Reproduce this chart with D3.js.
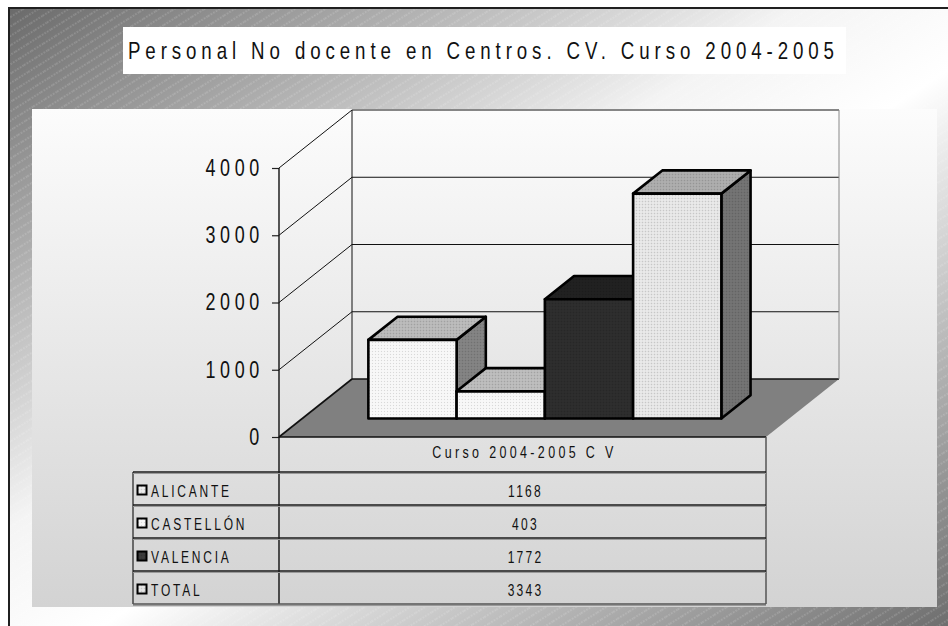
<!DOCTYPE html>
<html><head><meta charset="utf-8">
<script src="https://cdn.jsdelivr.net/npm/d3@7"></script>
<style>
html,body{margin:0;padding:0;background:#fff;}
svg{display:block;font-family:"Liberation Sans",Arial,sans-serif;}
</style></head><body>
<svg id="c" width="948" height="626"></svg>
<script>
const title = "Personal No docente en Centros. CV. Curso 2004-2005";
const categories = ["Curso 2004-2005 CV"];
const seriesNames = ["ALICANTE", "CASTELLÓN", "VALENCIA", "TOTAL"];
const seriesValues = [1168, 403, 1772, 3343];
const yTickValues = [0, 1000, 2000, 3000, 4000];
const yTickLabels = ["0", "1000", "2000", "3000", "4000"];

const seriesStyle = [
  {front: "#f6f6f6", top: "#b6b6b6", side: "#808080", key: "#e6e6e6"},
  {front: "#f6f6f6", top: "#b8b8b8", side: "#7c7c7c", key: "#f4f4f4"},
  {front: "#2c2c2c", top: "#202020", side: "#1c1c1c", key: "#3a3a3a"},
  {front: "#e2e2e2", top: "#a9a9a9", side: "#707070", key: "#dedede"}
];

const W = 948, H = 626;
const NARROW = 0.78;
const svg = d3.select("#c");
const defs = svg.append("defs");

const fg = defs.append("linearGradient").attr("id", "frameGrad")
  .attr("x1", 0).attr("y1", 0).attr("x2", 1).attr("y2", 1);
[[0, "#6a6a6a"], [0.42, "#f4f4f4"], [0.55, "#ffffff"], [1, "#6e6e6e"]]
  .forEach(([o, c]) => fg.append("stop").attr("offset", o).attr("stop-color", c));

const hatch = defs.append("pattern").attr("id", "hatch").attr("patternUnits", "userSpaceOnUse")
  .attr("width", 14).attr("height", 8).attr("patternTransform", "rotate(-32)");
hatch.append("line").attr("x1", 0).attr("x2", 14).attr("y1", 4).attr("y2", 4)
  .attr("stroke", "#ffffff").attr("stroke-opacity", 0.32).attr("stroke-width", 1)
  .attr("stroke-dasharray", "1.5,1.5");

const ig = defs.append("linearGradient").attr("id", "innerGrad")
  .attr("x1", 0).attr("y1", 0).attr("x2", 0).attr("y2", 1);
[[0, "#fcfcfc"], [1, "#d3d3d3"]]
  .forEach(([o, c]) => ig.append("stop").attr("offset", o).attr("stop-color", c));

function dotPattern(id, base) {
  const p = defs.append("pattern").attr("id", id).attr("patternUnits", "userSpaceOnUse")
    .attr("width", 3).attr("height", 3);
  p.append("rect").attr("width", 3).attr("height", 3).attr("fill", base);
  p.append("rect").attr("x", 0).attr("y", 0).attr("width", 1).attr("height", 1).attr("fill", d3.color(base).darker(0.35));
  p.append("rect").attr("x", 1.5).attr("y", 1.5).attr("width", 1).attr("height", 1).attr("fill", d3.color(base).brighter(0.35));
  return `url(#${id})`;
}

function narrowText(parent, x, yy, txt, size, anchor, spacing, sx) {
  return parent.append("text")
    .attr("transform", `translate(${x},${yy}) scale(${sx},1)`)
    .attr("text-anchor", anchor).attr("font-size", size).attr("fill", "#111")
    .style("letter-spacing", spacing + "px").text(txt);
}

// frame
svg.append("rect").attr("x", 0).attr("y", 0).attr("width", W).attr("height", H).attr("fill", "#ffffff");
svg.append("rect").attr("x", 9).attr("y", 8).attr("width", W - 9).attr("height", H - 8).attr("fill", "url(#frameGrad)");
svg.append("rect").attr("x", 9).attr("y", 8).attr("width", W - 9).attr("height", H - 8).attr("fill", "url(#hatch)");
svg.append("path").attr("d", `M9,${H} L9,8 L${W},8`).attr("fill", "none").attr("stroke", "#202020").attr("stroke-width", 2);

// title box
svg.append("rect").attr("x", 123).attr("y", 27).attr("width", 723).attr("height", 47).attr("fill", "#ffffff");
svg.append("text").attr("transform", `translate(128,59) scale(${NARROW},1)`)
  .attr("font-size", 24).attr("fill", "#111")
  .attr("textLength", 706 / NARROW).attr("lengthAdjust", "spacing").text(title);

// inner chart area
svg.append("rect").attr("x", 32).attr("y", 109).attr("width", 905).attr("height", 498).attr("fill", "url(#innerGrad)");

// 3D geometry
const X0 = 279, Y0 = 437, XR = 766;
const DX = 73, DY = -58;
const zF = 0.32, zB = 0.72;
const y = d3.scaleLinear().domain([0, 4000]).range([Y0, 168]);
const xCat = d3.scaleBand().domain(categories).range([X0, XR]);
const xSer = d3.scaleBand().domain(seriesNames)
  .range([xCat(categories[0]) + 66, xCat(categories[0]) + xCat.bandwidth() - 68]);

const g = svg.append("g");
g.append("path").attr("d", `M${X0},${Y0} L${XR},${Y0} L${XR + DX},${Y0 + DY} L${X0 + DX},${Y0 + DY} Z`)
  .attr("fill", "#808080").attr("stroke", "none");
yTickValues.forEach(t => {
  const yy = y(t);
  g.append("line").attr("x1", X0).attr("y1", yy).attr("x2", X0 + DX).attr("y2", yy + DY)
    .attr("stroke", "#111").attr("stroke-width", t === 0 ? 1.6 : 1);
  g.append("line").attr("x1", X0 + DX).attr("y1", yy + DY).attr("x2", XR + DX).attr("y2", yy + DY)
    .attr("stroke", "#111").attr("stroke-width", t === 0 ? 1.6 : 1);
});
g.append("line").attr("x1", X0 + DX).attr("x2", X0 + DX).attr("y1", y(0) + DY).attr("y2", y(4000) + DY).attr("stroke", "#111");
g.append("line").attr("x1", XR + DX).attr("x2", XR + DX).attr("y1", y(0) + DY).attr("y2", y(4000) + DY).attr("stroke", "#888");

const bw = xSer.bandwidth();
seriesNames.forEach((s, i) => {
  const v = seriesValues[i];
  const st = seriesStyle[i];
  const x = xSer(s);
  const fx = x + zF * DX, bx = x + zB * DX;
  const fyTop = y(v) + zF * DY, byTop = y(v) + zB * DY;
  const fyBot = y(0) + zF * DY, byBot = y(0) + zB * DY;
  const bar = g.append("g").attr("stroke", "#000").attr("stroke-width", 2.6).attr("stroke-linejoin", "round");
  bar.append("path").attr("d", `M${fx + bw},${fyTop} L${bx + bw},${byTop} L${bx + bw},${byBot} L${fx + bw},${fyBot} Z`)
    .attr("fill", dotPattern("side" + i, st.side));
  bar.append("path").attr("d", `M${fx},${fyTop} L${fx + bw},${fyTop} L${bx + bw},${byTop} L${bx},${byTop} Z`)
    .attr("fill", dotPattern("top" + i, st.top));
  bar.append("rect").attr("x", fx).attr("y", fyTop).attr("width", bw).attr("height", fyBot - fyTop)
    .attr("fill", dotPattern("front" + i, st.front));
});

// y axis
const yAxis = d3.axisLeft(y).tickValues(yTickValues).tickFormat((d, i) => yTickLabels[i])
  .tickSize(7).tickPadding(14);
const ax = svg.append("g").attr("transform", `translate(${X0},0)`).call(yAxis);
ax.select(".domain").remove();
ax.selectAll(".tick line").attr("stroke", "#222").attr("stroke-width", 1.2);
ax.selectAll(".tick text").attr("font-size", 23).attr("fill", "#111")
  .attr("font-family", "'Liberation Sans',Arial,sans-serif")
  .style("letter-spacing", "6px")
  .attr("x", -15 / NARROW).attr("transform", `scale(${NARROW},1)`);
svg.append("line").attr("x1", X0).attr("x2", X0).attr("y1", y(4000)).attr("y2", 604)
  .attr("stroke", "#111").attr("stroke-width", 1.4);

// data table
const TL = 133, headBot = 472, rowH = 33;
const table = svg.append("g");
table.append("line").attr("x1", X0).attr("x2", XR).attr("y1", Y0).attr("y2", Y0).attr("stroke", "#111").attr("stroke-width", 1.6);
narrowText(table, (X0 + XR) / 2 + 2, 458, categories[0].replace("CV", "C V"), 16, "middle", 4.3, NARROW);
table.append("line").attr("x1", XR).attr("x2", XR).attr("y1", Y0).attr("y2", headBot + rowH * 4)
  .attr("stroke", "#555").attr("stroke-width", 1.5);
table.append("line").attr("x1", TL).attr("x2", TL).attr("y1", headBot).attr("y2", headBot + rowH * 4)
  .attr("stroke", "#444").attr("stroke-width", 1.5);
for (let r = 0; r <= 4; r++) {
  const yy = headBot + r * rowH;
  table.append("line").attr("x1", TL).attr("x2", XR).attr("y1", yy).attr("y2", yy)
    .attr("stroke", r === 4 ? "#555" : "#1a1a1a").attr("stroke-width", 1.5);
  table.append("line").attr("x1", TL).attr("x2", XR).attr("y1", yy + 1.5).attr("y2", yy + 1.5)
    .attr("stroke", "#9a9a9a").attr("stroke-width", 1);
}
seriesNames.forEach((s, i) => {
  const cy = headBot + i * rowH + rowH / 2 + 2;
  table.append("rect").attr("x", 137.5).attr("y", cy - 5).attr("width", 9).attr("height", 9)
    .attr("fill", dotPattern("key" + i, seriesStyle[i].key)).attr("stroke", "#000").attr("stroke-width", 2);
  narrowText(table, 151, cy + 6, s, 16, "start", 3.7, 0.75);
  narrowText(table, (X0 + XR) / 2 + 3, cy + 6, d3.format("d")(seriesValues[i]), 16, "middle", 3, 0.75);
});
</script>
</body></html>
